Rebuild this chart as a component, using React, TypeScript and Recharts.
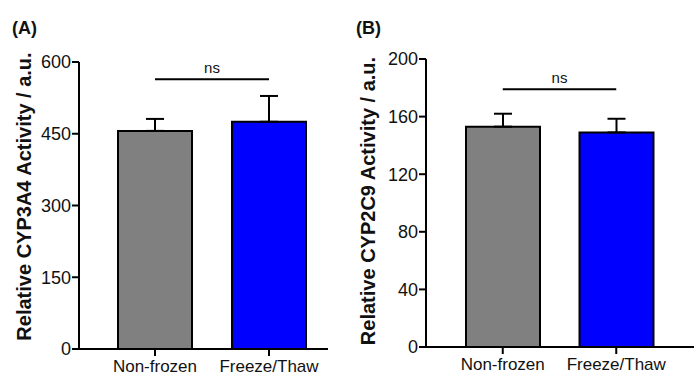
import React from 'react';
import { BarChart, Bar, XAxis, YAxis, ErrorBar, ReferenceLine, Cell } from 'recharts';

const groups = ['Non-frozen', 'Freeze/Thaw'];
const barColors = ['#808080', '#0000ff'];

// Panel A: CYP3A4
const cyp3a4Mean = [456, 475];
const cyp3a4Sem = [25, 54];
const cyp3a4Ticks = [0, 150, 300, 450, 600];
const cyp3a4NsY = 564;

// Panel B: CYP2C9
const cyp2c9Mean = [153, 149];
const cyp2c9Sem = [9, 9.5];
const cyp2c9Ticks = [0, 40, 80, 120, 160, 200];
const cyp2c9NsY = 179;

const FONT = '"Liberation Sans", Arial, Helvetica, sans-serif';

const makeRows = (mean: number[], sem: number[]) =>
  groups.map((g, i) => ({ group: g, mean: mean[i], err: [0, sem[i]] }));

interface PanelProps {
  tag: string;
  title: string;
  mean: number[];
  sem: number[];
  ticks: number[];
  nsY: number;
  left: number;
  width: number;
  axisW: number;
  top: number;
  bottom: number;
  right: number;
  padL: number;
  padR: number;
  titleX: number;
  titleShift: number;
  tagX: number;
}

const Panel = (p: PanelProps) => {
  const data = makeRows(p.mean, p.sem);
  const YTitle = ({ viewBox }: any) => {
    const cx = viewBox.x + p.titleX;
    const cy = viewBox.y + viewBox.height / 2 + p.titleShift;
    return (
      <text
        x={cx}
        y={cy}
        transform={`rotate(-90, ${cx}, ${cy})`}
        textAnchor="middle"
        dominantBaseline="central"
        fontFamily={FONT}
        fontWeight="bold"
        fontSize={20}
        fill="#111"
      >
        {p.title}
      </text>
    );
  };

  return (
    <div style={{ position: 'absolute', left: p.left, top: 0, width: p.width, height: 376 }}>
      <div
        style={{
          position: 'absolute',
          left: p.tagX,
          top: 18,
          fontFamily: FONT,
          fontWeight: 'bold',
          fontSize: 18,
          color: '#111',
        }}
      >
        {p.tag}
      </div>
      <BarChart
        width={p.width}
        height={376}
        data={data}
        margin={{ top: p.top, right: p.right, bottom: 0, left: 0 }}
        barSize={74}
      >
        <XAxis
          dataKey="group"
          height={p.bottom}
          padding={{ left: p.padL, right: p.padR }}
          axisLine={{ stroke: '#000', strokeWidth: 2 }}
          tickLine={{ stroke: '#000', strokeWidth: 2 }}
          tickSize={7}
          tickMargin={4}
          tick={{ fontFamily: FONT, fontSize: 17, fill: '#111' }}
        />
        <YAxis
          width={p.axisW}
          domain={[0, p.ticks[p.ticks.length - 1]]}
          ticks={p.ticks}
          interval={0}
          axisLine={{ stroke: '#000', strokeWidth: 2 }}
          tickLine={{ stroke: '#000', strokeWidth: 2 }}
          tickSize={7}
          tickMargin={1}
          tick={{ fontFamily: FONT, fontSize: 18, fill: '#111' }}
          label={{ content: YTitle }}
        />
        <Bar dataKey="mean" stroke="#000" strokeWidth={2} isAnimationActive={false}>
          {data.map((d, i) => (
            <Cell key={d.group} fill={barColors[i]} />
          ))}
          <ErrorBar dataKey="err" direction="y" width={9} stroke="#000" strokeWidth={2} isAnimationActive={false} />
        </Bar>
        <ReferenceLine
          segment={[
            { x: groups[0], y: p.nsY },
            { x: groups[1], y: p.nsY },
          ]}
          stroke="#000"
          strokeWidth={2}
          label={{ value: 'ns', position: 'top', offset: 6, fontFamily: FONT, fontSize: 15, fill: '#111' }}
        />
      </BarChart>
    </div>
  );
};

export default function App() {
  return (
    <div style={{ position: 'absolute', left: 0, top: 0, width: 695, height: 376, background: '#fff' }}>
      <Panel
        tag="(A)"
        title="Relative CYP3A4 Activity / a.u."
        mean={cyp3a4Mean}
        sem={cyp3a4Sem}
        ticks={cyp3a4Ticks}
        nsY={cyp3a4NsY}
        left={0}
        width={335}
        axisW={79}
        top={62}
        bottom={27}
        right={7}
        padL={19}
        padR={2}
        titleX={24}
        titleShift={-9}
        tagX={12}
      />
      <Panel
        tag="(B)"
        title="Relative CYP2C9 Activity / a.u."
        mean={cyp2c9Mean}
        sem={cyp2c9Sem}
        ticks={cyp2c9Ticks}
        nsY={cyp2c9NsY}
        left={340}
        width={355}
        axisW={86}
        top={59}
        bottom={29}
        right={1}
        padL={20}
        padR={21}
        titleX={28}
        titleShift={-2}
        tagX={16}
      />
    </div>
  );
}
